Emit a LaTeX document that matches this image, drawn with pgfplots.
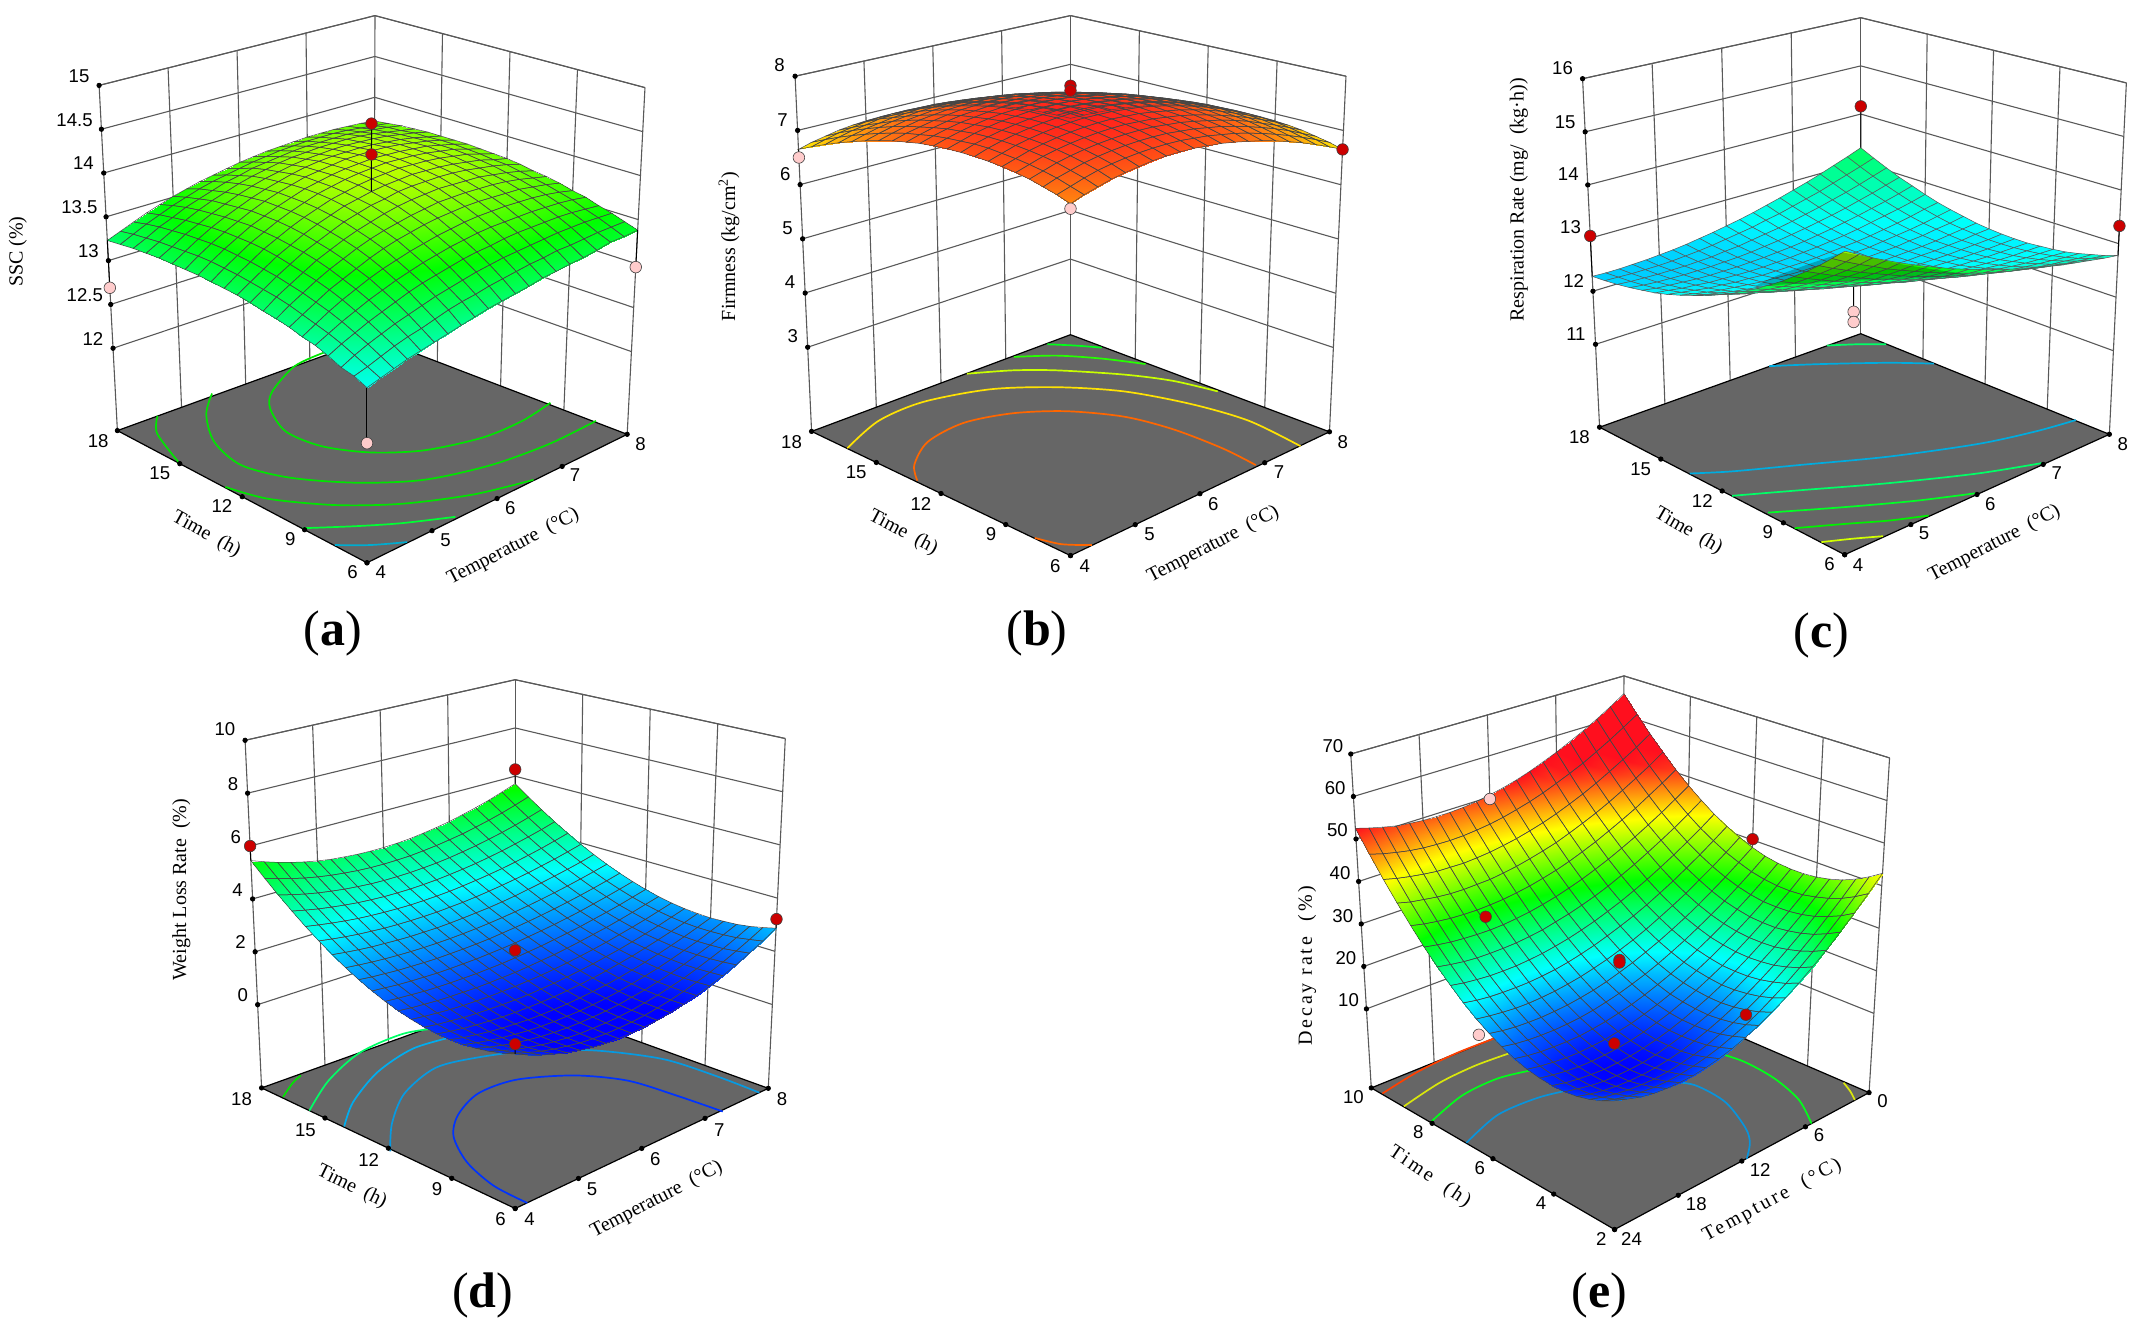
\documentclass[border=0pt]{standalone}
\usepackage{fontspec}
\setmainfont{Liberation Serif}
\setsansfont{Liberation Sans}
\usepackage{pgfplots}
\usepackage{pgfplotstable}
\pgfplotsset{compat=1.18}
\definecolor{floorgray}{HTML}{666666}

% corners of the drawn box, in image pixels: trilinear map (u,v,w) -> image
\pgfmathdeclarefunction{PX}{3}{\begingroup\pgfmathparse{(1-#3)*((1-#1)*(1-#2)*\FFx+#1*(1-#2)*\FRx+(1-#1)*#2*\FLx+#1*#2*\FBx)+#3*((1-#1)*(1-#2)*\TFx+#1*(1-#2)*\TRx+(1-#1)*#2*\TLx+#1*#2*\TBx)}\pgfmathsmuggle\pgfmathresult\endgroup}
\pgfmathdeclarefunction{PY}{3}{\begingroup\pgfmathparse{(1-#3)*((1-#1)*(1-#2)*\FFy+#1*(1-#2)*\FRy+(1-#1)*#2*\FLy+#1*#2*\FBy)+#3*((1-#1)*(1-#2)*\TFy+#1*(1-#2)*\TRy+(1-#1)*#2*\TLy+#1*#2*\TBy)}\pgfmathsmuggle\pgfmathresult\endgroup}
\newcommand\floorcorners[8]{\def\FFx{#1}\def\FFy{#2}\def\FRx{#3}\def\FRy{#4}\def\FLx{#5}\def\FLy{#6}\def\FBx{#7}\def\FBy{#8}}
\newcommand\topcorners[8]{\def\TFx{#1}\def\TFy{#2}\def\TRx{#3}\def\TRy{#4}\def\TLx{#5}\def\TLy{#6}\def\TBx{#7}\def\TBy{#8}}
\newcommand\ranges[6]{\def\Tlo{#1}\def\Thi{#2}\def\hlo{#3}\def\hhi{#4}\def\zlo{#5}\def\zhi{#6}}

\pgfplotsset{
  panel/.style={
    at={(0,0)},anchor=south west,scale only axis,width=1071pt,height=666.5pt,
    xmin=0,xmax=2142,ymin=0,ymax=1333,zmin=-100,zmax=100,y dir=reverse,
    view={0}{90},hide axis,clip=false,
    colormap={de}{rgb255=(0,0,255) rgb255=(0,255,255) rgb255=(0,255,0) rgb255=(255,255,0) rgb255=(255,15,30)}
  },
  wall/.style={draw=black!65,line width=.55pt,forget plot}
}
\newcommand\wline[6]{%
  \pgfmathsetmacro\xa{PX(#1,#2,#3)}\pgfmathsetmacro\ya{PY(#1,#2,#3)}%
  \pgfmathsetmacro\xb{PX(#4,#5,#6)}\pgfmathsetmacro\yb{PY(#4,#5,#6)}%
  \addplot3[wall] coordinates {(\xa,\ya,0) (\xb,\yb,0)};}
\newcommand\tdot[3]{%
  \pgfmathsetmacro\xa{PX(#1,#2,#3)}\pgfmathsetmacro\ya{PY(#1,#2,#3)}%
  \addplot3[only marks,mark=*,mark size=1.1pt,black,forget plot] coordinates {(\xa,\ya,0)};}
\newcommand\drawbox[1]{%
  \foreach \k in {.25,.5,.75}{\wline{\k}{1}{0}{\k}{1}{1}\wline{1}{\k}{0}{1}{\k}{1}}
  \foreach \z in {#1}{%
    \pgfmathsetmacro\w{(\z-(\zlo))/(\zhi-(\zlo))}%
    \wline{0}{1}{\w}{1}{1}{\w}\wline{1}{1}{\w}{1}{0}{\w}\tdot{0}{1}{\w}}
  \wline{0}{1}{1}{1}{1}{1}\wline{1}{1}{1}{1}{0}{1}
  \wline{0}{1}{0}{0}{1}{1}\wline{1}{0}{0}{1}{0}{1}\wline{1}{1}{0}{1}{1}{1}
  \addplot3[fill=floorgray,draw=black,line width=.6pt,forget plot] coordinates
    {(\FFx,\FFy,0) (\FRx,\FRy,0) (\FBx,\FBy,0) (\FLx,\FLy,0) (\FFx,\FFy,0)};
  \foreach \k in {0,.25,.5,.75,1}{\tdot{\k}{0}{0}\tdot{0}{\k}{0}}
}
\newcommand\contour[2]{\addplot3[color=#1,line width=.85pt,smooth,forget plot]
  table[row sep=\\,header=false,x expr=\thisrowno{0}/2.24+\ox,y expr=\thisrowno{1}/\yf+\oy,z expr=0] {#2};}
\newcommand\surface[1]{\addplot3[surf,shader=faceted,faceted color=black!65,line width=.25pt,
    mesh/rows=21,mesh/cols=21,z buffer=none,forget plot]
  table[row sep=\\,header=false,z index=0,
    x expr={PX(1-mod(\coordindex,21)/20,1-(\coordindex-mod(\coordindex,21))/420,(\thisrowno{0}-(\zlo))/(\zhi-(\zlo)))},
    y expr={PY(1-mod(\coordindex,21)/20,1-(\coordindex-mod(\coordindex,21))/420,(\thisrowno{0}-(\zlo))/(\zhi-(\zlo)))}] {#1};}
% smooth shading with the cell lines laid over it, from one table
\newcommand\smoothsurface[1]{\addplot3[surf,shader=interp,
    mesh/rows=21,mesh/cols=21,z buffer=none,forget plot]
  table[x index=0,y index=0,z index=0,
    x expr={PX(1-mod(\coordindex,21)/20,1-(\coordindex-mod(\coordindex,21))/420,(\thisrowno{0}-(\zlo))/(\zhi-(\zlo)))},
    y expr={PY(1-mod(\coordindex,21)/20,1-(\coordindex-mod(\coordindex,21))/420,(\thisrowno{0}-(\zlo))/(\zhi-(\zlo)))}] {#1};
  \addplot3[mesh,line width=.25pt,colormap={blk}{rgb255=(70,70,70) rgb255=(70,70,70)},
    mesh/rows=21,mesh/cols=21,z buffer=none,forget plot]
  table[x index=0,y index=0,z index=0,
    x expr={PX(1-mod(\coordindex,21)/20,1-(\coordindex-mod(\coordindex,21))/420,(\thisrowno{0}-(\zlo))/(\zhi-(\zlo)))},
    y expr={PY(1-mod(\coordindex,21)/20,1-(\coordindex-mod(\coordindex,21))/420,(\thisrowno{0}-(\zlo))/(\zhi-(\zlo)))}] {#1};}
\newcommand\points[2]{\addplot3[only marks,mark=*,mark size=2.9pt,mark options={fill=#1,draw=black!75,line width=.3pt},forget plot]
  table[row sep=\\,header=false,z expr=0,
    x expr={PX((\thisrowno{0}-(\Tlo))/(\Thi-(\Tlo)),(\thisrowno{1}-(\hlo))/(\hhi-(\hlo)),(\thisrowno{2}-(\zlo))/(\zhi-(\zlo)))},
    y expr={PY((\thisrowno{0}-(\Tlo))/(\Thi-(\Tlo)),(\thisrowno{1}-(\hlo))/(\hhi-(\hlo)),(\thisrowno{2}-(\zlo))/(\zhi-(\zlo)))}] {#2};}
\newcommand\stem[2]{\addplot3[black,line width=.5pt,forget plot]
  table[row sep=\\,header=false,z expr=0,
    x expr={PX((\thisrowno{0}-(\Tlo))/(\Thi-(\Tlo)),(\thisrowno{1}-(\hlo))/(\hhi-(\hlo)),(\thisrowno{2}-(\zlo))/(\zhi-(\zlo)))},
    y expr={PY((\thisrowno{0}-(\Tlo))/(\Thi-(\Tlo)),(\thisrowno{1}-(\hlo))/(\hhi-(\hlo)),(\thisrowno{2}-(\zlo))/(\zhi-(\zlo)))}] {#1\\#2\\};}
\newcommand\tl[3]{\node[inner sep=0pt,font=\sffamily\fontsize{9.3pt}{11pt}\selectfont] at (axis cs:{#1/2.24+\ox},{#2/\yf+\oy},0) {#3};}
\newcommand\ttl[4]{\node[inner sep=0pt,rotate=#3,font=\fontsize{10pt}{12pt}\selectfont] at (axis cs:{#1/2.24+\ox},{#2/\yf+\oy},0) {#4};}
\newcommand\letter[3]{\node[inner sep=0pt,font=\fontsize{25pt}{28pt}\selectfont] at (axis cs:{#1/2.24+\ox},{#2/\yf+\oy},0) {(\textbf{#3})};}

\pgfplotstableread[row sep=\\,header=false]{
13.71\\13.73\\13.74\\13.75\\13.75\\13.75\\13.74\\13.73\\13.72\\13.70\\13.68\\13.65\\13.62\\13.59\\13.55\\13.51\\13.46\\13.41\\13.35\\13.29\\13.23\\
13.73\\13.75\\13.77\\13.79\\13.80\\13.80\\13.80\\13.79\\13.78\\13.76\\13.74\\13.71\\13.68\\13.65\\13.61\\13.56\\13.51\\13.45\\13.39\\13.32\\13.25\\
13.75\\13.78\\13.80\\13.82\\13.84\\13.84\\13.84\\13.84\\13.83\\13.81\\13.79\\13.77\\13.73\\13.70\\13.65\\13.60\\13.55\\13.48\\13.42\\13.34\\13.27\\
13.76\\13.79\\13.82\\13.85\\13.87\\13.88\\13.88\\13.88\\13.87\\13.86\\13.84\\13.81\\13.78\\13.74\\13.69\\13.64\\13.58\\13.51\\13.44\\13.36\\13.28\\
13.77\\13.81\\13.84\\13.87\\13.89\\13.90\\13.91\\13.91\\13.90\\13.89\\13.87\\13.84\\13.81\\13.77\\13.72\\13.66\\13.60\\13.53\\13.46\\13.37\\13.29\\
13.77\\13.81\\13.85\\13.88\\13.90\\13.92\\13.93\\13.93\\13.93\\13.92\\13.90\\13.87\\13.83\\13.79\\13.74\\13.68\\13.62\\13.55\\13.47\\13.38\\13.29\\
13.77\\13.82\\13.86\\13.89\\13.92\\13.94\\13.95\\13.95\\13.95\\13.93\\13.91\\13.89\\13.85\\13.81\\13.76\\13.70\\13.63\\13.56\\13.48\\13.39\\13.29\\
13.77\\13.82\\13.86\\13.90\\13.92\\13.94\\13.95\\13.96\\13.95\\13.94\\13.92\\13.89\\13.86\\13.81\\13.76\\13.70\\13.64\\13.56\\13.48\\13.39\\13.29\\
13.76\\13.81\\13.86\\13.89\\13.92\\13.94\\13.95\\13.96\\13.95\\13.94\\13.92\\13.89\\13.86\\13.81\\13.76\\13.70\\13.63\\13.56\\13.47\\13.38\\13.28\\
13.75\\13.80\\13.85\\13.88\\13.91\\13.93\\13.94\\13.95\\13.94\\13.93\\13.91\\13.88\\13.85\\13.80\\13.75\\13.69\\13.62\\13.55\\13.46\\13.37\\13.27\\
13.74\\13.78\\13.83\\13.86\\13.89\\13.91\\13.92\\13.93\\13.92\\13.91\\13.89\\13.86\\13.83\\13.78\\13.73\\13.67\\13.60\\13.53\\13.44\\13.35\\13.26\\
13.72\\13.77\\13.81\\13.84\\13.87\\13.89\\13.90\\13.90\\13.90\\13.89\\13.86\\13.84\\13.80\\13.76\\13.70\\13.64\\13.58\\13.50\\13.42\\13.33\\13.24\\
13.69\\13.74\\13.78\\13.81\\13.84\\13.85\\13.86\\13.87\\13.86\\13.85\\13.83\\13.80\\13.76\\13.72\\13.67\\13.61\\13.55\\13.47\\13.39\\13.31\\13.21\\
13.67\\13.71\\13.75\\13.78\\13.80\\13.81\\13.82\\13.82\\13.82\\13.80\\13.78\\13.75\\13.72\\13.68\\13.63\\13.57\\13.51\\13.44\\13.36\\13.28\\13.19\\
13.64\\13.68\\13.71\\13.74\\13.75\\13.76\\13.77\\13.77\\13.76\\13.75\\13.73\\13.70\\13.67\\13.63\\13.58\\13.52\\13.46\\13.40\\13.32\\13.24\\13.16\\
13.60\\13.64\\13.67\\13.69\\13.70\\13.71\\13.71\\13.71\\13.70\\13.68\\13.66\\13.63\\13.60\\13.56\\13.52\\13.47\\13.41\\13.35\\13.28\\13.20\\13.12\\
13.57\\13.60\\13.62\\13.63\\13.64\\13.64\\13.64\\13.64\\13.63\\13.61\\13.59\\13.56\\13.53\\13.49\\13.45\\13.40\\13.35\\13.29\\13.23\\13.16\\13.09\\
13.52\\13.54\\13.56\\13.57\\13.57\\13.57\\13.57\\13.56\\13.54\\13.53\\13.51\\13.48\\13.45\\13.42\\13.38\\13.33\\13.28\\13.23\\13.17\\13.11\\13.04\\
13.48\\13.49\\13.50\\13.50\\13.50\\13.49\\13.48\\13.47\\13.46\\13.44\\13.42\\13.39\\13.36\\13.33\\13.29\\13.25\\13.21\\13.16\\13.11\\13.05\\12.98\\
13.43\\13.43\\13.43\\13.42\\13.41\\13.41\\13.39\\13.38\\13.36\\13.34\\13.32\\13.29\\13.27\\13.24\\13.20\\13.16\\13.13\\13.09\\13.04\\12.99\\12.95\\
13.38\\13.37\\13.37\\13.34\\13.32\\13.31\\13.29\\13.28\\13.25\\13.23\\13.21\\13.19\\13.16\\13.13\\13.10\\13.07\\13.04\\13.01\\12.97\\12.93\\12.89\\
}\ssctable
\pgfplotstableread[row sep=\\,header=false]{
5.89\\6.03\\6.16\\6.28\\6.39\\6.49\\6.58\\6.66\\6.72\\6.78\\6.82\\6.85\\6.87\\6.88\\6.88\\6.87\\6.85\\6.82\\6.77\\6.72\\6.65\\
6.03\\6.17\\6.29\\6.41\\6.52\\6.64\\6.72\\6.80\\6.86\\6.92\\6.96\\6.99\\7.01\\7.02\\7.02\\7.01\\6.99\\6.95\\6.91\\6.85\\6.78\\
6.16\\6.31\\6.43\\6.55\\6.67\\6.76\\6.84\\6.93\\6.99\\7.04\\7.08\\7.12\\7.14\\7.14\\7.14\\7.13\\7.12\\7.07\\7.03\\6.97\\6.90\\
6.28\\6.43\\6.55\\6.67\\6.78\\6.88\\6.97\\7.04\\7.11\\7.16\\7.20\\7.23\\7.25\\7.26\\7.26\\7.24\\7.22\\7.18\\7.14\\7.08\\7.01\\
6.39\\6.53\\6.66\\6.78\\6.89\\6.99\\7.07\\7.15\\7.21\\7.26\\7.30\\7.33\\7.35\\7.36\\7.36\\7.35\\7.32\\7.29\\7.24\\7.18\\7.11\\
6.49\\6.63\\6.76\\6.87\\6.98\\7.08\\7.17\\7.24\\7.30\\7.36\\7.40\\7.43\\7.45\\7.45\\7.45\\7.44\\7.41\\7.38\\7.33\\7.27\\7.20\\
6.58\\6.72\\6.85\\6.96\\7.07\\7.17\\7.25\\7.33\\7.39\\7.44\\7.48\\7.51\\7.53\\7.53\\7.53\\7.52\\7.49\\7.46\\7.41\\7.35\\7.28\\
6.66\\6.80\\6.92\\7.04\\7.15\\7.24\\7.32\\7.40\\7.46\\7.51\\7.55\\7.58\\7.60\\7.60\\7.60\\7.59\\7.56\\7.52\\7.47\\7.42\\7.35\\
6.72\\6.86\\6.99\\7.10\\7.21\\7.30\\7.39\\7.46\\7.52\\7.57\\7.61\\7.64\\7.66\\7.66\\7.66\\7.64\\7.62\\7.58\\7.53\\7.47\\7.40\\
6.78\\6.91\\7.04\\7.16\\7.26\\7.36\\7.44\\7.51\\7.57\\7.62\\7.66\\7.69\\7.70\\7.71\\7.71\\7.69\\7.66\\7.63\\7.58\\7.52\\7.45\\
6.82\\6.96\\7.08\\7.20\\7.30\\7.40\\7.48\\7.55\\7.61\\7.66\\7.70\\7.73\\7.74\\7.75\\7.74\\7.73\\7.70\\7.66\\7.61\\7.55\\7.48\\
6.85\\6.99\\7.12\\7.23\\7.33\\7.43\\7.51\\7.58\\7.64\\7.69\\7.73\\7.76\\7.77\\7.77\\7.77\\7.75\\7.73\\7.69\\7.64\\7.57\\7.50\\
6.87\\7.01\\7.14\\7.25\\7.35\\7.45\\7.53\\7.60\\7.66\\7.70\\7.74\\7.77\\7.79\\7.79\\7.78\\7.77\\7.74\\7.70\\7.65\\7.59\\7.51\\
6.88\\7.02\\7.14\\7.26\\7.36\\7.45\\7.53\\7.60\\7.66\\7.71\\7.75\\7.78\\7.79\\7.80\\7.79\\7.77\\7.74\\7.70\\7.65\\7.59\\7.51\\
6.88\\7.02\\7.14\\7.26\\7.36\\7.45\\7.53\\7.60\\7.66\\7.71\\7.74\\7.77\\7.78\\7.79\\7.78\\7.76\\7.73\\7.69\\7.64\\7.57\\7.50\\
6.87\\7.01\\7.13\\7.24\\7.35\\7.44\\7.52\\7.59\\7.64\\7.69\\7.73\\7.75\\7.77\\7.77\\7.76\\7.74\\7.71\\7.67\\7.62\\7.55\\7.48\\
6.85\\6.99\\7.11\\7.22\\7.32\\7.41\\7.49\\7.56\\7.62\\7.66\\7.70\\7.72\\7.74\\7.74\\7.73\\7.71\\7.68\\7.64\\7.59\\7.52\\7.45\\
6.82\\6.95\\7.07\\7.18\\7.29\\7.38\\7.46\\7.52\\7.58\\7.63\\7.66\\7.69\\7.70\\7.70\\7.69\\7.67\\7.64\\7.60\\7.55\\7.48\\7.41\\
6.77\\6.90\\7.03\\7.14\\7.24\\7.33\\7.41\\7.48\\7.53\\7.58\\7.61\\7.64\\7.65\\7.65\\7.64\\7.62\\7.59\\7.55\\7.49\\7.43\\7.35\\
6.72\\6.85\\6.97\\7.08\\7.18\\7.27\\7.35\\7.42\\7.47\\7.52\\7.55\\7.58\\7.59\\7.59\\7.58\\7.56\\7.53\\7.49\\7.43\\7.36\\7.29\\
6.65\\6.78\\6.90\\7.01\\7.11\\7.20\\7.28\\7.34\\7.40\\7.45\\7.48\\7.51\\7.52\\7.52\\7.51\\7.48\\7.45\\7.41\\7.35\\7.29\\7.21\\
}\firmtable
\pgfplotstableread[row sep=\\,header=false]{
5.69\\5.49\\5.30\\5.14\\5.00\\4.87\\4.77\\4.69\\4.62\\4.58\\4.56\\4.56\\4.58\\4.62\\4.67\\4.75\\4.85\\4.97\\5.11\\5.27\\5.45\\
5.29\\5.10\\4.93\\4.78\\4.65\\4.53\\4.44\\4.36\\4.30\\4.25\\4.23\\4.22\\4.23\\4.26\\4.31\\4.37\\4.45\\4.55\\4.67\\4.81\\4.96\\
4.91\\4.74\\4.58\\4.44\\4.32\\4.21\\4.12\\4.04\\3.98\\3.94\\3.91\\3.90\\3.90\\3.92\\3.96\\4.01\\4.08\\4.16\\4.26\\4.38\\4.51\\
4.56\\4.40\\4.26\\4.13\\4.01\\3.91\\3.82\\3.75\\3.69\\3.64\\3.61\\3.59\\3.59\\3.60\\3.63\\3.67\\3.73\\3.80\\3.88\\3.98\\4.09\\
4.24\\4.09\\3.95\\3.83\\3.72\\3.62\\3.54\\3.47\\3.41\\3.36\\3.33\\3.31\\3.30\\3.31\\3.33\\3.36\\3.40\\3.46\\3.53\\3.61\\3.70\\
3.94\\3.80\\3.67\\3.56\\3.45\\3.36\\3.28\\3.21\\3.15\\3.10\\3.07\\3.04\\3.03\\3.03\\3.04\\3.06\\3.10\\3.14\\3.20\\3.27\\3.35\\
3.68\\3.54\\3.42\\3.31\\3.21\\3.12\\3.03\\2.96\\2.90\\2.86\\2.82\\2.79\\2.77\\2.77\\2.77\\2.79\\2.82\\2.85\\2.90\\2.96\\3.03\\
3.44\\3.31\\3.19\\3.08\\2.98\\2.89\\2.81\\2.74\\2.68\\2.63\\2.59\\2.56\\2.54\\2.53\\2.53\\2.54\\2.56\\2.59\\2.63\\2.68\\2.74\\
3.23\\3.10\\2.98\\2.87\\2.77\\2.68\\2.60\\2.53\\2.47\\2.42\\2.37\\2.34\\2.32\\2.31\\2.30\\2.31\\2.33\\2.35\\2.39\\2.43\\2.49\\
3.05\\2.92\\2.80\\2.69\\2.58\\2.49\\2.41\\2.34\\2.28\\2.22\\2.18\\2.15\\2.12\\2.11\\2.10\\2.10\\2.12\\2.14\\2.17\\2.22\\2.27\\
2.89\\2.76\\2.63\\2.52\\2.42\\2.32\\2.24\\2.17\\2.10\\2.05\\2.00\\1.96\\1.94\\1.92\\1.92\\1.92\\1.93\\1.95\\1.99\\2.03\\2.08\\
2.76\\2.63\\2.50\\2.38\\2.27\\2.18\\2.09\\2.01\\1.94\\1.89\\1.84\\1.80\\1.78\\1.76\\1.75\\1.76\\1.77\\1.79\\1.83\\1.87\\1.93\\
2.66\\2.52\\2.38\\2.26\\2.15\\2.04\\1.95\\1.87\\1.80\\1.74\\1.69\\1.66\\1.63\\1.62\\1.61\\1.62\\1.63\\1.66\\1.70\\1.75\\1.81\\
2.59\\2.44\\2.29\\2.16\\2.04\\1.93\\1.84\\1.75\\1.68\\1.62\\1.57\\1.53\\1.50\\1.49\\1.49\\1.50\\1.52\\1.55\\1.60\\1.65\\1.72\\
2.55\\2.38\\2.23\\2.09\\1.96\\1.84\\1.74\\1.65\\1.57\\1.51\\1.46\\1.42\\1.40\\1.39\\1.39\\1.40\\1.43\\1.47\\1.52\\1.59\\1.67\\
2.53\\2.35\\2.18\\2.03\\1.89\\1.77\\1.66\\1.56\\1.48\\1.42\\1.37\\1.33\\1.31\\1.30\\1.30\\1.33\\1.36\\1.41\\1.48\\1.55\\1.65\\
2.55\\2.35\\2.16\\2.00\\1.85\\1.71\\1.60\\1.50\\1.41\\1.34\\1.29\\1.25\\1.24\\1.23\\1.24\\1.27\\1.32\\1.38\\1.46\\1.55\\1.66\\
2.58\\2.37\\2.17\\1.99\\1.82\\1.68\\1.55\\1.44\\1.36\\1.28\\1.23\\1.20\\1.18\\1.18\\1.20\\1.24\\1.30\\1.37\\1.47\\1.58\\1.71\\
2.65\\2.41\\2.19\\2.00\\1.82\\1.66\\1.53\\1.41\\1.32\\1.24\\1.19\\1.16\\1.15\\1.15\\1.18\\1.23\\1.30\\1.39\\1.50\\1.64\\1.79\\
2.75\\2.49\\2.25\\2.03\\1.84\\1.67\\1.52\\1.40\\1.30\\1.22\\1.17\\1.14\\1.13\\1.14\\1.18\\1.25\\1.33\\1.44\\1.57\\1.73\\1.90\\
2.87\\2.58\\2.32\\2.08\\1.87\\1.69\\1.53\\1.40\\1.29\\1.21\\1.16\\1.13\\1.13\\1.15\\1.20\\1.28\\1.38\\1.51\\1.66\\1.84\\2.05\\
}\weighttable
\pgfplotstableread[row sep=\\,header=false]{
65.5\\63.2\\61.1\\59.2\\57.5\\55.9\\54.5\\53.2\\52.1\\51.2\\50.5\\49.9\\49.5\\49.3\\49.3\\49.4\\49.7\\50.1\\50.8\\51.6\\52.5\\
61.3\\59.1\\57.0\\55.1\\53.3\\51.8\\50.4\\49.1\\48.0\\47.1\\46.3\\45.7\\45.3\\45.0\\44.9\\45.0\\45.2\\45.6\\46.2\\46.9\\47.8\\
57.5\\55.2\\53.2\\51.3\\49.5\\47.9\\46.5\\45.2\\44.1\\43.2\\42.4\\41.8\\41.3\\41.0\\40.8\\40.9\\41.0\\41.4\\41.9\\42.5\\43.3\\
54.0\\51.7\\49.7\\47.8\\46.0\\44.4\\43.0\\41.7\\40.5\\39.6\\38.8\\38.1\\37.6\\37.2\\37.1\\37.0\\37.1\\37.4\\37.9\\38.4\\39.2\\
50.7\\48.5\\46.5\\44.5\\42.8\\41.2\\39.7\\38.4\\37.2\\36.2\\35.4\\34.7\\34.2\\33.8\\33.6\\33.5\\33.6\\33.8\\34.2\\34.7\\35.4\\
47.8\\45.6\\43.5\\41.6\\39.8\\38.2\\36.7\\35.4\\34.2\\33.2\\32.3\\31.6\\31.0\\30.6\\30.3\\30.2\\30.3\\30.5\\30.8\\31.3\\31.9\\
45.3\\43.0\\40.9\\39.0\\37.2\\35.5\\34.0\\32.6\\31.4\\30.4\\29.5\\28.8\\28.1\\27.7\\27.4\\27.3\\27.3\\27.4\\27.7\\28.2\\28.8\\
43.0\\40.7\\38.6\\36.6\\34.8\\33.1\\31.6\\30.2\\29.0\\27.9\\27.0\\26.2\\25.6\\25.1\\24.8\\24.6\\24.6\\24.7\\25.0\\25.4\\26.0\\
41.1\\38.8\\36.6\\34.6\\32.7\\31.0\\29.4\\28.0\\26.8\\25.7\\24.7\\23.9\\23.2\\22.7\\22.4\\22.2\\22.2\\22.3\\22.5\\22.9\\23.5\\
39.5\\37.1\\34.9\\32.9\\30.9\\29.2\\27.6\\26.1\\24.8\\23.7\\22.7\\21.9\\21.2\\20.7\\20.3\\20.1\\20.0\\20.1\\20.4\\20.8\\21.3\\
38.2\\35.8\\33.5\\31.4\\29.4\\27.6\\26.0\\24.5\\23.2\\22.0\\21.0\\20.1\\19.4\\18.9\\18.5\\18.3\\18.2\\18.3\\18.5\\18.9\\19.5\\
37.2\\34.7\\32.4\\30.2\\28.2\\26.4\\24.7\\23.2\\21.8\\20.6\\19.6\\18.7\\18.0\\17.4\\17.0\\16.8\\16.7\\16.8\\17.0\\17.4\\18.0\\
36.6\\34.0\\31.6\\29.4\\27.3\\25.4\\23.7\\22.1\\20.7\\19.5\\18.4\\17.5\\16.8\\16.2\\15.8\\15.5\\15.5\\15.6\\15.8\\16.2\\16.8\\
36.3\\33.6\\31.1\\28.8\\26.7\\24.8\\23.0\\21.4\\19.9\\18.6\\17.5\\16.6\\15.8\\15.3\\14.8\\14.6\\14.5\\14.6\\14.9\\15.3\\15.9\\
36.3\\33.5\\31.0\\28.6\\26.4\\24.4\\22.5\\20.9\\19.4\\18.1\\16.9\\16.0\\15.2\\14.6\\14.2\\14.0\\13.9\\14.0\\14.3\\14.8\\15.4\\
36.6\\33.7\\31.1\\28.6\\26.4\\24.3\\22.4\\20.6\\19.1\\17.8\\16.6\\15.6\\14.8\\14.2\\13.8\\13.6\\13.5\\13.7\\14.0\\14.5\\15.2\\
37.2\\34.3\\31.5\\29.0\\26.6\\24.5\\22.5\\20.7\\19.1\\17.7\\16.6\\15.6\\14.8\\14.1\\13.7\\13.5\\13.5\\13.6\\14.0\\14.6\\15.3\\
38.1\\35.1\\32.2\\29.6\\27.2\\24.9\\22.9\\21.1\\19.4\\18.0\\16.8\\15.8\\14.9\\14.3\\13.9\\13.7\\13.7\\13.9\\14.3\\14.9\\15.7\\
39.4\\36.2\\33.3\\30.5\\28.0\\25.7\\23.6\\21.7\\20.0\\18.5\\17.3\\16.2\\15.4\\14.8\\14.4\\14.2\\14.3\\14.5\\15.0\\15.6\\16.5\\
41.0\\37.7\\34.6\\31.8\\29.1\\26.7\\24.5\\22.6\\20.8\\19.3\\18.1\\17.0\\16.2\\15.6\\15.2\\15.0\\15.1\\15.4\\15.9\\16.6\\17.6\\
42.9\\39.5\\36.3\\33.3\\30.5\\28.1\\25.8\\23.8\\22.0\\20.4\\19.1\\18.0\\17.2\\16.6\\16.2\\16.1\\16.2\\16.5\\17.1\\18.0\\19.0\\
}\decaytable

\begin{document}
\begin{tikzpicture}
\path (0,0) rectangle (1071pt,666.5pt);

% ---------- (a) SSC
\def\ox{0}\def\oy{0}\def\yf{2.376}
\floorcorners{367}{562.8}{627.2}{434.3}{117.4}{430.6}{374}{337.5}
\topcorners{367}{185.7}{645}{87.6}{99.1}{85.4}{375}{15.6}
\ranges{4}{8}{6}{18}{11.06}{15}
\begin{axis}[panel,point meta min=12.22,point meta max=14.75]
\drawbox{12,12.5,13,13.5,14,14.5,15}
\contour{green!90!black}{725 838\\660 870\\610 930\\605 970\\640 1025\\720 1060\\830 1075\\950 1070\\1080 1040\\1170 1000\\1233 957\\}
\contour{green!90!black}{475 935\\462 985\\480 1050\\540 1105\\650 1135\\800 1147\\950 1140\\1100 1105\\1230 1055\\1335 1000\\}
\contour{green!90!black}{353 988\\352 1030\\400 1098\\}
\contour{green!90!black}{505 1157\\600 1185\\750 1200\\900 1197\\1060 1175\\1195 1140\\}
\contour{green!80!cyan}{678 1255\\800 1250\\900 1243\\1020 1228\\}
\contour{cyan!80!green}{750 1295\\830 1295\\912 1288\\}
\smoothsurface{\ssctable}
\stem{6 12 14.66}{6 12 13.89}
\stem{4 6 12.31}{4 6 12.89}
\stem{4 18 12.69}{4 18 13.23}
\stem{8 6 12.96}{8 6 13.38}
\points{red!80!black}{6 12 14.66\\6 12 14.31\\}
\points{red!20!white}{4 6 12.31\\4 18 12.69\\8 6 12.96\\}
\tl{177}{180}{15}\tl{167}{285}{14.5}\tl{187}{388}{14}\tl{178}{492}{13.5}\tl{198}{597}{13}\tl{190}{700}{12.5}\tl{208}{805}{12}
\tl{220}{1047}{18}\tl{358}{1125}{15}\tl{497}{1202}{12}\tl{650}{1280}{9}\tl{790}{1360}{6}
\tl{853}{1360}{4}\tl{998}{1283}{5}\tl{1143}{1207}{6}\tl{1288}{1130}{7}\tl{1435}{1055}{8}
\ttl{462}{1270}{-29}{Time\ \ (h)}
\ttl{1150}{1300}{27.5}{Temperature\ \ (°C)}
\ttl{40}{598}{90}{SSC (\%)}
\letter{745}{1505}{a}
\end{axis}

% ---------- (b) Firmness
\def\ox{700}\def\oy{0}\def\yf{2.376}
\floorcorners{1070.5}{555.6}{1329.5}{431.8}{811.6}{431.4}{1070.5}{334.7}
\topcorners{1070.5}{155.6}{1346}{76.2}{795.1}{76.2}{1070.5}{15.6}
\ranges{4}{8}{6}{18}{1.447}{8}
\begin{axis}[panel,point meta min=2.4,point meta max=7.9]
\drawbox{3,4,5,6,7,8}
\contour{orange!80!red}{487 1142\\480 1105\\510 1050\\590 1005\\700 982\\820 977\\950 990\\1060 1020\\1170 1065\\1245 1105\\}
\contour{orange!80!red}{750 1278\\810 1293\\878 1295\\}
\contour{yellow!85!orange}{330 1065\\400 1000\\500 955\\650 925\\800 920\\950 930\\1100 960\\1230 1000\\1345 1060\\}
\contour{lime!85!yellow}{598 888\\700 880\\800 880\\950 890\\1060 905\\1160 930\\}
\contour{green!85!yellow}{703 848\\800 845\\900 852\\998 865\\}
\contour{green!90!cyan}{778 818\\840 821\\900 826\\}
\points{red!80!black}{8 18 6.56\\8 18 6.46\\}
\smoothsurface{\firmtable}
\stem{4 18 6.5}{4 18 6.65}
\points{red!20!white}{4 18 6.5\\4 6 7.13\\}
\points{red!80!black}{8 6 6.65\\}
\tl{178}{155}{8}\tl{185}{285}{7}\tl{191}{413}{6}\tl{196}{543}{5}\tl{202}{670}{4}\tl{208}{798}{3}
\tl{205}{1050}{18}\tl{350}{1122}{15}\tl{495}{1197}{12}\tl{652}{1270}{9}\tl{796}{1345}{6}
\tl{862}{1345}{4}\tl{1007}{1270}{5}\tl{1150}{1197}{6}\tl{1297}{1122}{7}\tl{1440}{1050}{8}
\ttl{455}{1265}{-28}{Time\ \ (h)}
\ttl{1150}{1295}{27.5}{Temperature\ \ (°C)}
\ttl{65}{585}{90}{Firmness (kg/cm\textsuperscript{2})}
\letter{755}{1505}{b}
\end{axis}

% ---------- (c) Respiration rate
\def\ox{1442}\def\oy{0}\def\yf{2.376}
\floorcorners{1844.7}{554.7}{2109.4}{434.3}{1599.6}{427.2}{1860.8}{333.7}
\topcorners{1845}{161.2}{2126.4}{82.9}{1582.6}{78.7}{1860.8}{17.7}
\ranges{4}{8}{6}{18}{9.44}{16}
\begin{axis}[panel,point meta min=11.35,point meta max=15.98]
\drawbox{11,12,13,14,15,16}
\contour{cyan!90!green}{555 1125\\650 1120\\800 1105\\1000 1085\\1200 1055\\1330 1025\\1420 998\\}
\contour{green!60!cyan}{650 1178\\800 1165\\1000 1148\\1200 1125\\1345 1100\\}
\contour{green!85!cyan}{730 1218\\900 1205\\1060 1190\\1195 1172\\}
\contour{green!95!black}{790 1255\\900 1245\\1000 1237\\1090 1225\\}
\contour{lime!70!yellow}{850 1288\\920 1280\\988 1274\\}
\contour{cyan!90!green}{733 870\\850 865\\1000 862\\1102 864\\}
\contour{green!60!cyan}{862 821\\930 818\\995 818\\}
\stem{6 12 11.59}{6 12 12.44}
\stem{8 18 14.16}{8 18 13.3}
\stem{4 18 13.04}{4 18 12.28}
\stem{8 6 13.33}{8 6 12.78}
\points{red!20!white}{6 12 11.78\\6 12 11.59\\}
\points{red!80!black}{8 18 14.16\\4 18 13.04\\8 6 13.33\\}
\surface{
13.30\\13.19\\13.09\\12.99\\12.90\\12.82\\12.74\\12.67\\12.60\\12.54\\12.49\\12.44\\12.40\\12.36\\12.33\\12.31\\12.29\\12.28\\12.27\\12.27\\12.28\\
13.17\\13.07\\12.98\\12.89\\12.80\\12.73\\12.66\\12.59\\12.54\\12.48\\12.44\\12.40\\12.36\\12.33\\12.31\\12.29\\12.28\\12.28\\12.28\\12.29\\12.30\\
13.05\\12.96\\12.87\\12.79\\12.72\\12.65\\12.59\\12.53\\12.48\\12.44\\12.40\\12.36\\12.34\\12.31\\12.30\\12.29\\12.29\\12.29\\12.30\\12.31\\12.33\\
12.94\\12.86\\12.78\\12.71\\12.64\\12.58\\12.53\\12.48\\12.44\\12.40\\12.37\\12.34\\12.32\\12.31\\12.30\\12.30\\12.30\\12.31\\12.32\\12.34\\12.37\\
12.85\\12.77\\12.70\\12.64\\12.58\\12.53\\12.48\\12.44\\12.40\\12.37\\12.35\\12.33\\12.32\\12.31\\12.31\\12.31\\12.32\\12.34\\12.36\\12.38\\12.42\\
12.76\\12.69\\12.63\\12.58\\12.53\\12.48\\12.44\\12.41\\12.38\\12.36\\12.34\\12.33\\12.32\\12.32\\12.33\\12.34\\12.35\\12.38\\12.40\\12.44\\12.47\\
12.68\\12.63\\12.57\\12.52\\12.48\\12.44\\12.41\\12.39\\12.37\\12.35\\12.34\\12.34\\12.34\\12.34\\12.36\\12.37\\12.40\\12.42\\12.46\\12.50\\12.54\\
12.62\\12.57\\12.52\\12.48\\12.45\\12.42\\12.39\\12.38\\12.36\\12.35\\12.35\\12.35\\12.36\\12.38\\12.39\\12.42\\12.45\\12.48\\12.52\\12.57\\12.62\\
12.57\\12.52\\12.49\\12.45\\12.43\\12.40\\12.39\\12.38\\12.37\\12.37\\12.37\\12.38\\12.40\\12.42\\12.44\\12.47\\12.51\\12.55\\12.60\\12.65\\12.71\\
12.52\\12.49\\12.46\\12.43\\12.41\\12.40\\12.39\\12.38\\12.39\\12.39\\12.40\\12.42\\12.44\\12.47\\12.50\\12.54\\12.58\\12.63\\12.68\\12.74\\12.80\\
12.49\\12.47\\12.44\\12.43\\12.41\\12.41\\12.40\\12.41\\12.41\\12.43\\12.44\\12.47\\12.50\\12.53\\12.57\\12.61\\12.66\\12.72\\12.77\\12.84\\12.91\\
12.47\\12.45\\12.44\\12.43\\12.42\\12.42\\12.42\\12.43\\12.45\\12.47\\12.49\\12.52\\12.56\\12.60\\12.65\\12.70\\12.75\\12.81\\12.88\\12.95\\13.02\\
12.46\\12.45\\12.44\\12.44\\12.44\\12.45\\12.46\\12.48\\12.50\\12.52\\12.56\\12.59\\12.63\\12.68\\12.73\\12.79\\12.85\\12.92\\12.99\\13.07\\13.15\\
12.46\\12.46\\12.46\\12.46\\12.47\\12.48\\12.50\\12.53\\12.55\\12.59\\12.63\\12.67\\12.72\\12.77\\12.83\\12.89\\12.96\\13.03\\13.11\\13.20\\13.28\\
12.48\\12.48\\12.48\\12.49\\12.51\\12.53\\12.56\\12.59\\12.62\\12.66\\12.71\\12.76\\12.81\\12.87\\12.94\\13.01\\13.08\\13.16\\13.25\\13.33\\13.43\\
12.50\\12.51\\12.52\\12.54\\12.56\\12.59\\12.62\\12.66\\12.70\\12.75\\12.80\\12.85\\12.92\\12.98\\13.05\\13.13\\13.21\\13.30\\13.39\\13.48\\13.58\\
12.53\\12.55\\12.57\\12.59\\12.62\\12.66\\12.69\\12.74\\12.79\\12.84\\12.90\\12.96\\13.03\\13.10\\13.18\\13.26\\13.35\\13.44\\13.54\\13.64\\13.75\\
12.58\\12.60\\12.63\\12.66\\12.69\\12.73\\12.78\\12.83\\12.88\\12.94\\13.01\\13.08\\13.15\\13.23\\13.32\\13.40\\13.50\\13.60\\13.70\\13.81\\13.92\\
12.64\\12.66\\12.70\\12.73\\12.77\\12.82\\12.87\\12.93\\12.99\\13.06\\13.13\\13.20\\13.29\\13.37\\13.46\\13.56\\13.66\\13.76\\13.87\\13.98\\14.10\\
12.70\\12.74\\12.78\\12.82\\12.87\\12.92\\12.98\\13.04\\13.11\\13.18\\13.26\\13.34\\13.43\\13.52\\13.62\\13.72\\13.82\\13.94\\14.05\\14.17\\14.30\\
12.78\\12.82\\12.87\\12.92\\12.97\\13.03\\13.09\\13.16\\13.24\\13.32\\13.40\\13.49\\13.58\\13.68\\13.78\\13.89\\14.00\\14.12\\14.24\\14.37\\14.50\\
}
% the underside of the raised front corner reads darker
\addplot3[fill=black,fill opacity=.25,draw=none,forget plot]
  table[row sep=\\,header=false,x expr=\thisrowno{0}/2.24+\ox,y expr=\thisrowno{1}/\yf+\oy,z expr=0]
  {898 600\\960 612\\1030 628\\1100 640\\1180 652\\1100 660\\900 668\\780 675\\700 680\\750 655\\820 628\\898 600\\};
\tl{270}{162}{16}\tl{276}{290}{15}\tl{283}{413}{14}\tl{288}{540}{13}\tl{295}{667}{12}\tl{300}{793}{11}
\tl{308}{1038}{18}\tl{445}{1115}{15}\tl{583}{1190}{12}\tl{730}{1265}{9}\tl{868}{1340}{6}
\tl{932}{1342}{4}\tl{1080}{1268}{5}\tl{1228}{1197}{6}\tl{1377}{1125}{7}\tl{1525}{1055}{8}
\ttl{552}{1262}{-30}{Time\ \ (h)}
\ttl{1238}{1292}{27.5}{Temperature\ \ (°C)}
\ttl{172}{475}{90}{Respiration Rate (mg/\ \ (kg·h))}
\letter{850}{1510}{c}
\end{axis}

% ---------- (d) Weight loss rate
\def\ox{150}\def\oy{660}\def\yf{2.33}
\floorcorners{515.2}{1208.5}{768.3}{1088.3}{261.6}{1087.9}{515.2}{996.9}
\topcorners{515.2}{817.7}{785.3}{738.5}{245.1}{740.3}{515.2}{679.7}
\ranges{4}{8}{6}{18}{-3.15}{10}
\begin{axis}[panel,point meta min=1.3,point meta max=9.75]
\drawbox{0,2,4,6,8,10}
\contour{blue!80!cyan}{845 1265\\770 1225\\710 1170\\680 1110\\690 1060\\735 1010\\820 978\\950 968\\1070 980\\1180 1015\\1283 1052\\}
\contour{cyan!85!blue}{538 1145\\542 1080\\570 1010\\640 950\\740 925\\860 910\\1000 910\\1150 930\\1270 970\\1365 1008\\}
\contour{cyan}{435 1087\\455 1030\\510 960\\590 905\\690 875\\}
\contour{green!60!cyan}{357 1050\\400 980\\470 915\\570 870\\670 855\\}
\contour{green!90!black}{298 1018\\320 985\\338 968\\}
\smoothsurface{\weighttable}
\stem{8 18 6.28}{8 18 5.69}
\stem{4 18 6.0}{4 18 5.45}
\stem{8 6 3.21}{8 6 2.87}
\stem{4 6 2.38}{4 6 2.05}
\points{red!80!black}{8 18 6.28\\4 18 6.0\\8 6 3.21\\6 12 2.28\\4 6 2.38\\}
\tl{168}{162}{10}\tl{186}{288}{8}\tl{192}{412}{6}\tl{196}{535}{4}\tl{203}{658}{2}\tl{208}{780}{0}
\tl{205}{1022}{18}\tl{348}{1095}{15}\tl{490}{1165}{12}\tl{643}{1233}{9}\tl{785}{1302}{6}
\tl{850}{1302}{4}\tl{990}{1233}{5}\tl{1132}{1163}{6}\tl{1275}{1095}{7}\tl{1416}{1022}{8}
\ttl{452}{1228}{-26}{Time\ \ (h)}
\ttl{1135}{1258}{27.5}{Temperature\ \ (°C)}
\ttl{70}{535}{90}{Weight Loss Rate\ \ (\%)}
\letter{745}{1480}{d}
\end{axis}

% ---------- (e) Decay rate
\def\ox{1270}\def\oy{660}\def\yf{2.33}
\floorcorners{1614.6}{1229.5}{1869.1}{1092.6}{1371.3}{1087.9}{1622.7}{986.2}
\topcorners{1614}{862.9}{1889.6}{757.9}{1350.8}{754}{1624}{675.9}
\ranges{24}{0}{2}{10}{-8.6}{70}
\begin{axis}[panel,point meta min=13.5,point meta max=52.5]
\drawbox{10,20,30,40,50,60,70}
\contour{red!75!yellow}{252 1010\\330 960\\420 915\\520 875\\}
\contour{yellow!85!green}{300 1040\\380 985\\460 945\\540 915\\}
\contour{green!90!cyan}{362 1075\\430 1015\\510 975\\590 955\\}
\contour{cyan!80!blue}{440 1125\\510 1060\\600 1020\\680 1000\\}
\contour{cyan!80!blue}{880 982\\950 990\\1020 1030\\1065 1090\\1075 1125\\1068 1162\\}
\contour{green!90!cyan}{985 910\\1060 935\\1130 975\\1185 1025\\1213 1080\\}
\contour{yellow!85!green}{1285 985\\1300 1005\\1310 1025\\}
\points{red!20!white}{12 10 49.5\\13.7 10 -6.3\\}
\smoothsurface{\decaytable}
\points{red!80!black}{24 6 45.7\\0 6 40.2\\12 2 24.2\\24 2 31.3\\12 6 23.9\\12 6 23.3\\}
\tl{141}{200}{70}\tl{146}{298}{60}\tl{151}{397}{50}\tl{157}{497}{40}\tl{163}{596}{30}\tl{170}{694}{20}\tl{176}{792}{10}
\tl{187}{1018}{10}\tl{332}{1100}{8}\tl{470}{1183}{6}\tl{607}{1265}{4}\tl{742}{1348}{2}
\tl{810}{1348}{24}\tl{955}{1268}{18}\tl{1098}{1188}{12}\tl{1230}{1108}{6}\tl{1372}{1028}{0}
\ttl{358}{1205}{-34}{\addfontfeature{LetterSpace=14}Time\ \ (h)}
\ttl{1125}{1260}{28.5}{\addfontfeature{LetterSpace=14}Tempture\ \ (°C)}
\ttl{83}{712}{90}{\addfontfeature{LetterSpace=14}Decay rate\ \ (\%)}
\letter{738}{1480}{e}
\end{axis}
\end{tikzpicture}
\end{document}
